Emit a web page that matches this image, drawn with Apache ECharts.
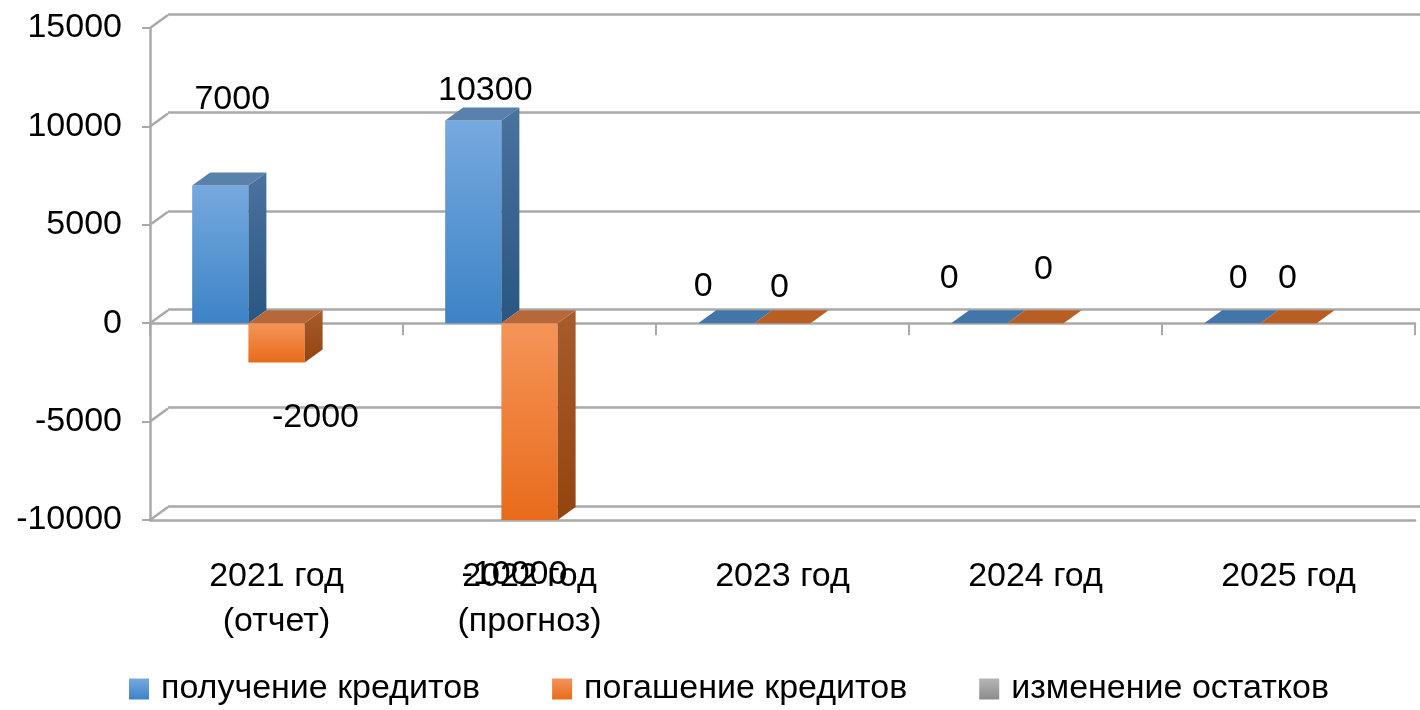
<!DOCTYPE html>
<html>
<head>
<meta charset="utf-8">
<script src="https://cdn.jsdelivr.net/npm/echarts@6/dist/echarts.min.js"></script>
<style>
  html, body { margin: 0; padding: 0; background: #fff; }
  #main { width: 1420px; height: 710px; }
</style>
</head>
<body>
<div id="main"></div>
<script>
// данные графика
const categories = ['2021 год\n(отчет)', '2022 год\n(прогноз)', '2023 год', '2024 год', '2025 год'];
const seriesNames = ['получение кредитов', 'погашение кредитов', 'изменение остатков'];
const receiving = [7000, 10300, 0, 0, 0];
const repayment = [-2000, -10000, 0, 0, 0];
const balanceChange = [null, null, null, null, null];
const yTicks = [-10000, -5000, 0, 5000, 10000, 15000];

// смещения подписей (как в Excel), px от конца столбца
const labelShift = [
  [[12, -86], [12, -30], [-23, -37], [-30, -45], [6, -45]],
  [[39, 55], [-15, 55], [-3, -36], [8, -54], [-1, -45]],
  [[0, 0], [0, 0], [0, 0], [0, 0], [0, 0]]
];

const FONT = 'Liberation Sans';
const DX = 18, DY = -13;   // глубина "3D"
const grey = '#a9a9a9';

function grad(c1, c2) {
  return { type: 'linear', x: 0, y: 0, x2: 0, y2: 1, colorStops: [{ offset: 0, color: c1 }, { offset: 1, color: c2 }] };
}

const palette = [
  { front: grad('#76a9df', '#3d83c6'), side: grad('#4a739e', '#2a5683'), top: '#5a81ab', flat: '#4276a8', legend: grad('#76a9df', '#3d83c6') },
  { front: grad('#f59458', '#e86b1b'), side: grad('#a75c2c', '#93450f'), top: '#b7683a', flat: '#b95e22', legend: grad('#f59458', '#e86b1b') },
  { front: grad('#b5b5b5', '#8c8c8c'), side: grad('#8a8a8a', '#6a6a6a'), top: '#9a9a9a', flat: '#8c8c8c', legend: grad('#b5b5b5', '#8c8c8c') }
];

function barRenderer(slot) {
  return function (params, api) {
    const ci = api.value(0), v = api.value(1);
    const c0 = api.coord([ci, 0]);
    const cv = api.coord([ci, v]);
    const catW = api.size([1, 0])[0];
    const bw = catW / 4.5;
    const x = c0[0] - catW / 2 + bw * 0.75 + slot * bw;
    const yTop = Math.min(c0[1], cv[1]);
    const yBot = Math.max(c0[1], cv[1]);
    const topY = v >= 0 ? cv[1] : c0[1];
    const p = palette[slot];
    const children = [];
    if (yBot - yTop > 0.5) {
      children.push({ type: 'rect', shape: { x: x, y: yTop, width: bw, height: yBot - yTop }, style: { fill: p.front } });
      children.push({ type: 'polygon', shape: { points: [[x + bw, yTop], [x + bw + DX, yTop + DY], [x + bw + DX, yBot + DY], [x + bw, yBot]] }, style: { fill: p.side } });
    }
    children.push({ type: 'polygon', shape: { points: [[x, topY], [x + DX, topY + DY], [x + bw + DX, topY + DY], [x + bw, topY]] },
      style: { fill: v === 0 ? p.flat : p.top } });
    const sh = labelShift[slot][ci];
    children.push({ type: 'text', z2: 100,
      style: { text: String(v), x: x + bw / 2 + sh[0], y: cv[1] + sh[1], align: 'center', verticalAlign: 'middle',
        fontFamily: FONT, fontSize: 34, fill: '#000' } });
    return { type: 'group', children: children };
  };
}

function toPairs(arr) {
  return arr.map((v, i) => v === null ? null : [i, v]).filter(d => d !== null);
}

const seriesData = [receiving, repayment, balanceChange];

const series = seriesData.map((arr, k) => ({
  name: seriesNames[k],
  type: 'custom',
  xAxisIndex: 0,
  yAxisIndex: 0,
  z: 10,
  itemStyle: { color: palette[k].legend },
  renderItem: barRenderer(k),
  encode: { x: 0, y: 1 },
  data: toPairs(arr)
}));

// левая боковая стенка: диагонали от тиков к задней стенке
series.push({
  type: 'custom',
  xAxisIndex: 0,
  yAxisIndex: 0,
  z: 2,
  silent: true,
  renderItem: function (params, api) {
    const c = api.coord([0, api.value(0)]);
    const x0 = c[0] - api.size([1, 0])[0] / 2;
    return { type: 'line', shape: { x1: x0, y1: c[1], x2: x0 + DX, y2: c[1] + DY }, style: { stroke: grey, lineWidth: 2.5 } };
  },
  data: yTicks.map(t => [t])
});

const chart = echarts.init(document.getElementById('main'));
chart.setOption({
  backgroundColor: '#fff',
  animation: false,
  textStyle: { fontFamily: FONT },
  grid: [
    { left: 150, top: 28, width: 1265, height: 492 },
    { left: 168, top: 14, width: 1265, height: 492 }
  ],
  xAxis: [
    { type: 'category', gridIndex: 0, data: categories, position: 'top',
      axisLine: { onZero: true, lineStyle: { color: grey, width: 2.5 } },
      axisTick: { show: true, inside: true, length: 12, lineStyle: { color: grey, width: 2 } },
      axisLabel: { show: false }, splitLine: { show: false } },
    { type: 'category', gridIndex: 0, data: categories, position: 'bottom',
      axisLine: { onZero: false, lineStyle: { color: grey, width: 2.5 } },
      axisTick: { show: false },
      axisLabel: { color: '#000', fontSize: 34, lineHeight: 45, margin: 34, fontFamily: FONT },
      splitLine: { show: false } },
    { type: 'category', gridIndex: 1, data: categories, show: false }
  ],
  yAxis: [
    { type: 'value', gridIndex: 0, min: -10000, max: 15000, interval: 5000,
      axisLine: { show: true, lineStyle: { color: grey, width: 2.5 } },
      axisTick: { show: true, length: 8, lineStyle: { color: grey, width: 2 } },
      axisLabel: { color: '#000', fontSize: 34, margin: 28, fontFamily: FONT, formatter: v => String(v) },
      splitLine: { show: false } },
    { type: 'value', gridIndex: 1, min: -10000, max: 15000, interval: 5000,
      axisLine: { show: false }, axisTick: { show: false }, axisLabel: { show: false },
      splitLine: { show: true, lineStyle: { color: grey, width: 2.5 } } }
  ],
  legend: {
    left: 124, top: 667,
    icon: 'rect', itemWidth: 20, itemHeight: 21, itemGap: 72,
    data: seriesNames,
    textStyle: { color: '#000', fontSize: 34, fontFamily: FONT, padding: [0, 0, 0, 7] }
  },
  series: series
});
</script>
</body>
</html>
